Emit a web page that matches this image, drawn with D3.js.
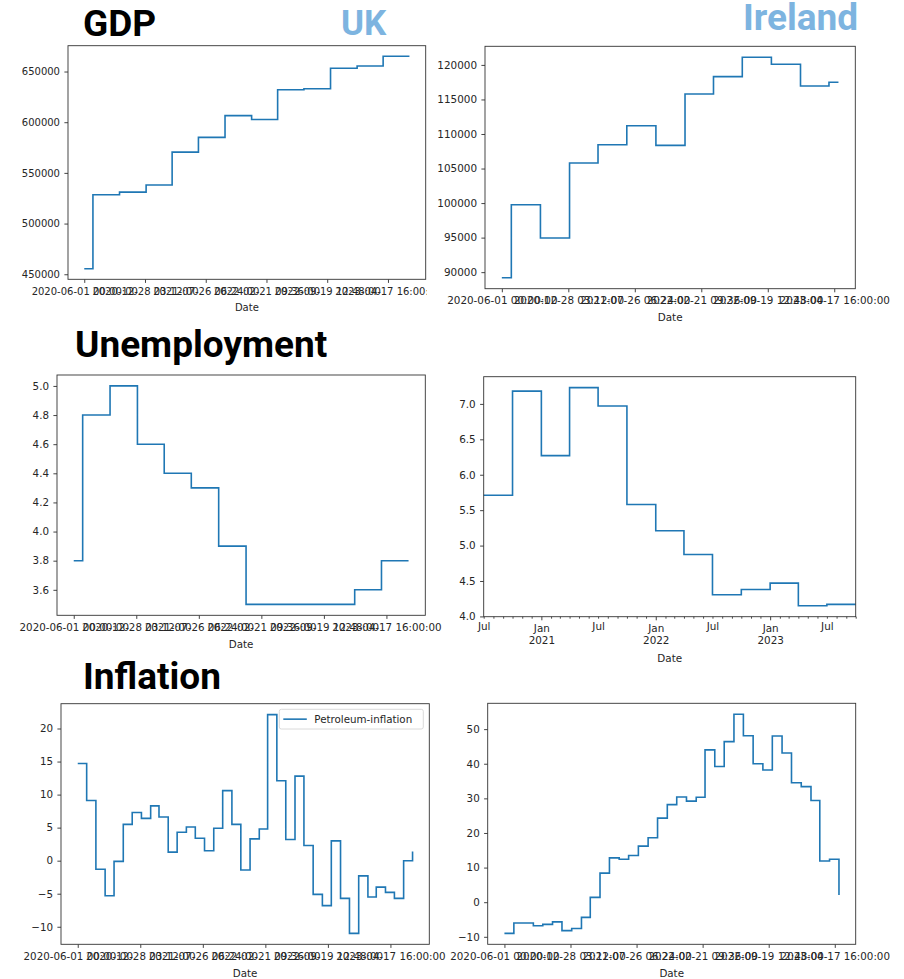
<!DOCTYPE html>
<html><head><meta charset="utf-8">
<script src="https://cdn.jsdelivr.net/npm/d3@7"></script>
<style>
body{margin:0;background:#fff;}
svg{display:block;}
</style></head><body>
<svg id="c" width="904" height="979"></svg>
<script>
// ---------------- DATA ----------------
const xTickDates = ["2020-06-01T00:00:00","2020-12-28T03:12:00","2021-07-26T06:24:00","2022-02-21T09:36:00","2022-09-19T12:48:00","2023-04-17T16:00:00"];

const ukQuarterDates = ["2020-06-01","2020-07-01","2020-10-01","2021-01-01","2021-04-01","2021-07-01","2021-10-01","2022-01-01","2022-04-01","2022-07-01","2022-10-01","2023-01-01","2023-04-01","2023-07-01"];
const ukGdp = [455500,528500,531000,538000,570500,585000,606500,602700,632000,633000,653200,655500,665000,665000];
const ukUnemployment = [3.8,4.8,5.0,4.6,4.4,4.3,3.9,3.5,3.5,3.5,3.5,3.6,3.8,3.8];

const ieQuarterDates = ["2020-06-01","2020-07-01","2020-10-01","2021-01-01","2021-04-01","2021-07-01","2021-10-01","2022-01-01","2022-04-01","2022-07-01","2022-10-01","2023-01-01","2023-04-01","2023-05-01"];
const ieGdp = [89200,99750,94950,105800,108450,111200,108350,115800,118300,121100,120100,116950,117500,117500];

const ieUnempDates = ["2020-07-01","2020-10-01","2021-01-01","2021-04-01","2021-07-01","2021-10-01","2022-01-01","2022-04-01","2022-07-01","2022-10-01","2023-01-01","2023-04-01","2023-07-01","2023-10-01"];
const ieUnemployment = [5.71,7.18,6.27,7.23,6.97,5.58,5.21,4.875,4.305,4.38,4.47,4.15,4.17,4.17];

const ukMonthDates = ["2020-06-01","2020-07-01","2020-08-01","2020-09-01","2020-10-01","2020-11-01","2020-12-01",
 "2021-01-01","2021-02-01","2021-03-01","2021-04-01","2021-05-01","2021-06-01","2021-07-01","2021-08-01","2021-09-01","2021-10-01","2021-11-01","2021-12-01",
 "2022-01-01","2022-02-01","2022-03-01","2022-04-01","2022-05-01","2022-06-01","2022-07-01","2022-08-01","2022-09-01","2022-10-01","2022-11-01","2022-12-01",
 "2023-01-01","2023-02-01","2023-03-01","2023-04-01","2023-05-01","2023-06-01","2023-07-01"];
const ukPetroleumInflation = [14.7,9.1,-1.3,-5.3,-0.1,5.5,7.3,6.4,8.3,6.6,1.3,4.3,5.1,3.4,1.5,4.9,10.6,5.5,-1.4,3.3,4.8,22.1,12.1,3.2,12.8,2.3,-5.1,-6.8,3.0,-5.7,-11.0,-2.3,-5.5,-4.0,-4.8,-5.7,0.0,1.4];

const ieMonthDates = ["2020-06-01","2020-07-01","2020-08-01","2020-09-01","2020-10-01","2020-11-01","2020-12-01",
 "2021-01-01","2021-02-01","2021-03-01","2021-04-01","2021-05-01","2021-06-01","2021-07-01","2021-08-01","2021-09-01","2021-10-01","2021-11-01","2021-12-01",
 "2022-01-01","2022-02-01","2022-03-01","2022-04-01","2022-05-01","2022-06-01","2022-07-01","2022-08-01","2022-09-01","2022-10-01","2022-11-01","2022-12-01",
 "2023-01-01","2023-02-01","2023-03-01","2023-04-01","2023-05-01"];
const iePetroleumInflation = [-9.0,-6.0,-6.0,-6.8,-6.4,-5.7,-8.2,-7.6,-4.4,1.4,8.4,12.8,12.4,13.5,16.2,18.6,24.3,28.2,30.4,29.2,30.3,44.0,39.2,46.4,54.3,48.1,40.0,38.2,48.0,43.1,34.5,33.4,29.4,11.9,12.4,2.1];

const ukGdpTicks = [450000,500000,550000,600000,650000];
const ieGdpTicks = [90000,95000,100000,105000,110000,115000,120000];
const ukUnempTicks = [3.6,3.8,4.0,4.2,4.4,4.6,4.8,5.0];
const ieUnempTicks = [4.0,4.5,5.0,5.5,6.0,6.5,7.0];
const ukInflTicks = [-10,-5,0,5,10,15,20];
const ieInflTicks = [-10,0,10,20,30,40,50];

const headings = [
  {text:"GDP", kind:"section"}, {text:"UK", kind:"country"}, {text:"Ireland", kind:"country"},
  {text:"Unemployment", kind:"section"}, {text:"Inflation", kind:"section"}
];
const xLabel = "Date";
const legendLabel = "Petroleum-inflation";

// ---------------- LAYOUT / STYLE ----------------
const svg = d3.select("#c");
const parse = s => s.length > 10 ? d3.utcParse("%Y-%m-%dT%H:%M:%S")(s) : d3.utcParse("%Y-%m-%d")(s);
const fmtTick = d3.utcFormat("%Y-%m-%d %H:%M:%S");
const LINE = "#1f77b4";
const TXT = "#262626";
const FONT = "DejaVu Sans, sans-serif";

const headingPos = [
  {x:83, y:36, size:37, color:"#000"},
  {x:341, y:35, size:35, color:"#7db4e0"},
  {x:743, y:30, size:37, color:"#7db4e0"},
  {x:75, y:357, size:37, color:"#000"},
  {x:83, y:689, size:37, color:"#000"}
];
headings.forEach((h,i)=>{
  const p = headingPos[i];
  svg.append("text").attr("x",p.x).attr("y",p.y).text(h.text)
    .attr("font-family","Roboto, sans-serif").attr("font-weight",700)
    .attr("font-size",p.size).attr("fill",p.color);
});

let clipId = 0;
function panel(cfg){
  const [x0,y0,x1,y1] = cfg.box;
  const fs = cfg.fs;
  const g = svg.append("g");
  const dates = cfg.dates.map(parse);
  let x;
  if (cfg.xDomain) {
    x = d3.scaleUtc().domain(cfg.xDomain.map(parse)).range([x0,x1]);
  } else {
    const ext = d3.extent(dates);
    const pad = (ext[1]-ext[0])*0.05;
    x = d3.scaleUtc().domain([new Date(+ext[0]-pad), new Date(+ext[1]+pad)]).range([x0,x1]);
  }
  const yext = d3.extent(cfg.values);
  const ypad = (yext[1]-yext[0])*0.05;
  const y = d3.scaleLinear().domain([yext[0]-ypad, yext[1]+ypad]).range([y1,y0]);

  // clip for tick labels (image edges in the original)
  const cid = "clip"+(clipId++);
  svg.append("clipPath").attr("id",cid).append("rect")
    .attr("x", cfg.clipL ?? 0).attr("y",0)
    .attr("width", (cfg.clipR ?? 904) - (cfg.clipL ?? 0)).attr("height",979);

  // y axis
  const ya = g.append("g").attr("transform",`translate(${x0},0)`)
    .call(d3.axisLeft(y).tickValues(cfg.yTicks).tickSize(3.6).tickPadding(4.4).tickFormat(cfg.yFmt));
  ya.select(".domain").remove();
  ya.selectAll("line").attr("stroke","#222").attr("stroke-width",0.85);
  ya.selectAll("text").attr("font-family",FONT).attr("font-size",fs).attr("fill",TXT);

  // x axis
  if (cfg.periodAxis) {
    const months = d3.utcMonth.range(x.domain()[0], new Date(+x.domain()[1]+1));
    const minorA = g.append("g").attr("transform",`translate(0,${y1})`)
      .call(d3.axisBottom(x).tickValues(months.filter(d=>d.getUTCMonth()!==0)).tickSize(2).tickPadding(3.4)
        .tickFormat(d=> d.getUTCMonth()===6 ? d3.utcFormat("%b")(d) : ""));
    minorA.select(".domain").remove();
    minorA.selectAll("line").attr("stroke","#222").attr("stroke-width",0.8);
    minorA.selectAll("text").attr("font-family",FONT).attr("font-size",fs).attr("fill",TXT).attr("dy","0.76em");
    const majorA = g.append("g").attr("transform",`translate(0,${y1})`)
      .call(d3.axisBottom(x).tickValues(months.filter(d=>d.getUTCMonth()===0)).tickSize(3.6).tickPadding(3.6)
        .tickFormat(d3.utcFormat("%b")));
    majorA.select(".domain").remove();
    majorA.selectAll("line").attr("stroke","#222").attr("stroke-width",0.85);
    majorA.selectAll("text").attr("font-family",FONT).attr("font-size",fs).attr("fill",TXT).attr("dy","0.76em")
      .each(function(d){
        const t = d3.select(this);
        t.append("tspan").attr("x",0).attr("dy","1.2em").text(d3.utcFormat("%Y")(d));
      });
  } else {
    const xa = g.append("g").attr("transform",`translate(0,${y1})`).attr("clip-path",`url(#${cid})`)
      .call(d3.axisBottom(x).tickValues(xTickDates.map(parse)).tickSize(3.6).tickPadding(4.7).tickFormat(fmtTick));
    xa.select(".domain").remove();
    xa.selectAll("line").attr("stroke","#222").attr("stroke-width",0.85);
    xa.selectAll("text").attr("font-family",FONT).attr("font-size",fs).attr("fill",TXT);
  }

  // x label
  g.append("text").attr("x",(x0+x1)/2).attr("y",y1+cfg.xlabOff).attr("text-anchor","middle")
    .attr("font-family",FONT).attr("font-size",fs).attr("fill",TXT).text(xLabel);

  // line
  const pts = dates.map((d,i)=>({d, v:cfg.values[i]}));
  g.append("path").datum(pts)
    .attr("d", d3.line().curve(d3.curveStepAfter).x(p=>x(p.d)).y(p=>y(p.v)))
    .attr("fill","none").attr("stroke",LINE).attr("stroke-width",1.6).attr("stroke-linejoin","miter");

  // frame
  g.append("rect").attr("x",x0).attr("y",y0).attr("width",x1-x0).attr("height",y1-y0)
    .attr("fill","none").attr("stroke","#333").attr("stroke-width",0.9);

  if (cfg.legend) {
    const L = cfg.legend;
    g.append("rect").attr("x",L.x).attr("y",L.y).attr("width",L.w).attr("height",L.h).attr("rx",2)
      .attr("fill","#fff").attr("fill-opacity",0.8).attr("stroke","#d0d0d0").attr("stroke-width",0.8);
    g.append("line").attr("x1",L.x+4).attr("x2",L.x+27.5).attr("y1",L.y+L.h/2).attr("y2",L.y+L.h/2)
      .attr("stroke",LINE).attr("stroke-width",1.6);
    g.append("text").attr("x",L.x+35).attr("y",L.y+L.h/2).attr("dy","0.36em")
      .attr("font-family",FONT).attr("font-size",fs).attr("fill",TXT).text(legendLabel);
  }
}

const intFmt = d3.format("d");
const dec1 = d3.format(".1f");

panel({box:[68,45.7,425.7,279.3], fs:10.0, dates:ukQuarterDates, values:ukGdp, yTicks:ukGdpTicks, yFmt:intFmt, xlabOff:31.5, clipR:427});
panel({box:[485,46.3,855.3,288.7], fs:10.4, dates:ieQuarterDates, values:ieGdp, yTicks:ieGdpTicks, yFmt:intFmt, xlabOff:32.5});
panel({box:[57,375,425.3,615.3], fs:10.3, dates:ukQuarterDates, values:ukUnemployment, yTicks:ukUnempTicks, yFmt:dec1, xlabOff:32.5});
panel({box:[483.7,376.7,855.7,616.7], fs:10.4, dates:ieUnempDates, values:ieUnemployment, yTicks:ieUnempTicks, yFmt:dec1, xlabOff:45.3,
       periodAxis:true, xDomain:[ieUnempDates[0], ieUnempDates[ieUnempDates.length-1]]});
panel({box:[61,703.7,429.3,944.3], fs:10.3, dates:ukMonthDates, values:ukPetroleumInflation, yTicks:ukInflTicks, yFmt:intFmt, xlabOff:32.5, clipR:446.5,
       legend:{x:279.3,y:709.3,w:144,h:19.7}});
panel({box:[487.7,703.3,855.7,944.3], fs:10.3, dates:ieMonthDates, values:iePetroleumInflation, yTicks:ieInflTicks, yFmt:intFmt, xlabOff:32.5});
</script>
</body></html>
